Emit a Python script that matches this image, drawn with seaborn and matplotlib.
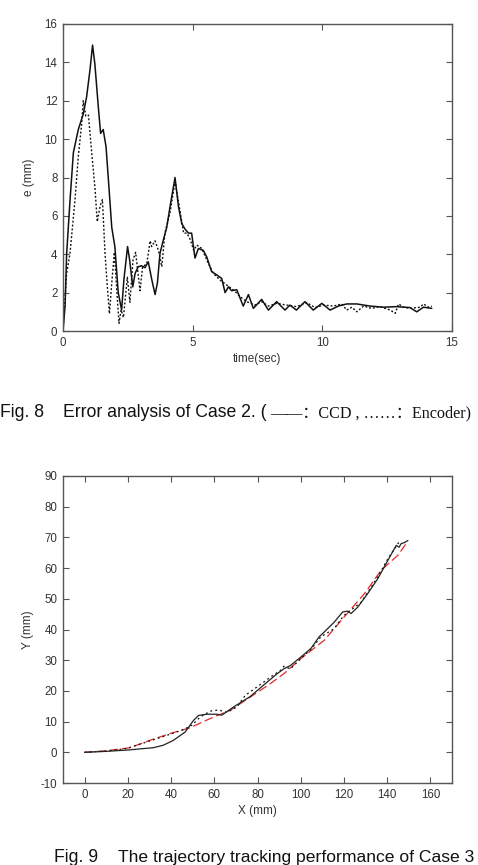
import matplotlib
matplotlib.use("Agg")
import matplotlib.pyplot as plt
import seaborn as sns
import pandas as pd

# ---------------- data: Fig. 8 (error vs time) ----------------
t_ccd = [0.00, 0.08, 0.14, 0.27, 0.40, 0.59, 0.78, 0.91, 1.04, 1.14, 1.23, 1.36, 1.45,
         1.55, 1.66, 1.75, 1.88, 2.00, 2.13, 2.26, 2.35, 2.49, 2.57, 2.69, 2.78, 2.90,
         3.03, 3.16, 3.29, 3.42, 3.55, 3.64, 3.74, 3.87, 4.00, 4.13, 4.32, 4.45, 4.58,
         4.71, 4.84, 4.96, 5.09, 5.22, 5.41, 5.54, 5.73, 5.93, 6.12, 6.25, 6.38, 6.50,
         6.70, 6.95, 7.15, 7.34, 7.66, 7.92, 8.24, 8.56, 8.75, 9.00, 9.33, 9.65, 9.98,
         10.30, 10.62, 10.94, 11.33, 11.84, 12.36, 12.87, 13.38, 13.64, 13.90, 14.22]
e_ccd = [0.0, 1.3, 4.0, 6.8, 9.3, 10.5, 11.3, 12.2, 13.6, 14.9, 13.9, 11.7, 10.3,
         10.5, 9.6, 7.9, 5.4, 4.4, 2.0, 1.1, 2.7, 4.4, 3.7, 2.3, 3.0, 3.35,
         3.4, 3.3, 3.6, 2.7, 1.9, 2.5, 4.05, 4.75, 5.4, 6.5, 8.0, 6.5, 5.6,
         5.3, 5.1, 5.1, 3.8, 4.3, 4.2, 3.87, 3.1, 2.92, 2.74, 2.0, 2.3, 2.1,
         2.15, 1.3, 1.9, 1.18, 1.65, 1.09, 1.53, 1.09, 1.35, 1.09, 1.53, 1.09, 1.44,
         1.09, 1.3, 1.41, 1.41, 1.3, 1.24, 1.27, 1.22, 1.0, 1.24, 1.18]

t_enc = [0.00, 0.14, 0.27, 0.46, 0.59, 0.72, 0.78, 0.88, 0.98, 1.11, 1.23, 1.32, 1.43,
         1.52, 1.62, 1.71, 1.79, 1.88, 1.98, 2.08, 2.16, 2.24, 2.33, 2.48, 2.58, 2.70,
         2.80, 2.97, 3.07, 3.23, 3.36, 3.42, 3.55, 3.68, 3.81, 3.93, 4.13, 4.32, 4.42,
         4.52, 4.65, 4.78, 4.91, 5.04, 5.16, 5.35, 5.60, 5.80, 6.05, 6.31, 6.57, 6.83,
         7.08, 7.40, 7.66, 7.92, 8.24, 8.63, 9.00, 9.40, 9.72, 10.04, 10.43, 10.75, 10.94,
         11.14, 11.33, 11.59, 11.90, 12.23, 12.62, 12.81, 12.94, 13.13, 13.38, 13.77, 13.90,
         14.10, 14.22]
e_enc = [0.0, 3.0, 4.05, 6.8, 9.1, 10.8, 12.0, 11.2, 11.25, 9.26, 7.5, 5.7, 6.5,
         6.85, 4.05, 2.3, 0.9, 2.5, 4.1, 2.0, 0.4, 1.1, 0.7, 2.8, 1.5, 3.7,
         4.1, 2.1, 3.35, 3.5, 4.7, 4.4, 4.7, 4.2, 3.35, 5.1, 6.2, 7.8, 7.0,
         6.2, 5.1, 5.1, 4.75, 4.2, 4.48, 4.3, 3.53, 3.0, 2.66, 2.4, 2.14, 1.79,
         1.53, 1.35, 1.53, 1.3, 1.44, 1.35, 1.27, 1.48, 1.22, 1.35, 1.3, 1.41, 1.09,
         1.24, 1.0, 1.3, 1.18, 1.27, 1.09, 0.92, 1.41, 1.24, 1.18, 1.24, 1.41,
         1.24, 1.3]

# ---------------- data: Fig. 9 (trajectory) ----------------
ref_x = [0, 10, 20.9, 30.2, 39.5, 48.8, 58.1, 67.4, 76.7, 86, 92.2, 100, 110.9, 120,
         129.5, 137.2, 145, 148.8]
ref_y = [0, 0.5, 1.5, 3.9, 6.1, 8.0, 11.0, 13.7, 18.0, 22.4, 25.6, 30.5, 36.5, 44.0,
         51.7, 59.3, 64.2, 68.0]

ccd_x = [0, 10, 20.9, 31.8, 36.4, 41.1, 46.5, 50.4, 52.7, 56.6, 61.2, 63.5, 69.0, 76.7,
         84.5, 89.1, 92.2, 95.3, 100.0, 104.7, 108.5, 110.9, 115.5, 119.4, 121.7, 123.3,
         126.4, 131.0, 135.7, 140.3, 144.2, 145.5, 146.5, 148.0, 149.6]
ccd_y = [0, 0.3, 0.8, 1.5, 2.3, 3.9, 6.6, 10.4, 12.0, 12.4, 12.4, 12.1, 14.8, 18.2,
         22.9, 25.6, 27.2, 28.3, 31.0, 33.8, 37.6, 39.2, 42.4, 45.7, 46.0, 45.2,
         47.3, 51.7, 56.6, 62.5, 67.4, 66.8, 68.0, 68.3, 69.0]

enc_x = [0, 10, 19.3, 28.7, 38.0, 45.7, 49.6, 53.5, 58.1, 62.0, 65.9, 70.5, 74.4, 79.8,
         86.0, 90.7, 92.2, 95.3, 100.0, 104.7, 109.3, 115.5, 120.0, 128.0, 135.7, 140.3,
         145.0, 146.5]
enc_y = [0, 0.4, 1.2, 3.35, 5.5, 7.4, 8.8, 11.5, 13.4, 13.8, 13.0, 14.8, 18.6, 21.3,
         24.5, 26.7, 28.0, 27.2, 30.5, 33.5, 37.6, 40.3, 44.6, 48.9, 57.2, 63.0,
         68.0, 69.0]

# ---------------- styling ----------------
sns.set_theme(style="ticks")
plt.rcParams["font.family"] = ["Liberation Sans", "DejaVu Sans"]
plt.rcParams["axes.unicode_minus"] = False
TXT = "#333333"
SPN = "#555555"

W, H = 478, 865
fig = plt.figure(figsize=(W / 100, H / 100), dpi=100)
fig.patch.set_facecolor("white")


def px_axes(left, top, right, bottom):
    return fig.add_axes([left / W, 1 - bottom / H, (right - left) / W, (bottom - top) / H])


def style_axes(ax):
    ax.set_facecolor("white")
    for s in ax.spines.values():
        s.set_color(SPN)
        s.set_linewidth(1.0)
        s.set_visible(True)
    ax.tick_params(direction="in", length=4, width=0.8, color=SPN, labelsize=8.3,
                   labelcolor=TXT, top=True, right=True, pad=4)
    ax.grid(False)


# Fig. 8
ax1 = px_axes(63, 24, 452, 331)
d1 = pd.DataFrame({"t": t_ccd, "e": e_ccd})
d2 = pd.DataFrame({"t": t_enc, "e": e_enc})
sns.lineplot(data=d2, x="t", y="e", ax=ax1, color="#111111", lw=1.0,
             linestyle=(0, (1.4, 1.4)), sort=False, estimator=None)
sns.lineplot(data=d1, x="t", y="e", ax=ax1, color="#111111", lw=1.1,
             sort=False, estimator=None)
ax1.set_xlim(0, 15)
ax1.set_ylim(0, 16)
ax1.set_xticks([0, 5, 10, 15])
ax1.set_yticks(range(0, 17, 2))
ax1.set_xlabel("time(sec)", fontsize=8.5, color=TXT, labelpad=3)
ax1.set_ylabel("e (mm)", fontsize=8.5, color=TXT, labelpad=7)
style_axes(ax1)

# Fig. 9
ax2 = px_axes(63, 476, 452, 783)
dr = pd.DataFrame({"x": ref_x, "y": ref_y})
dc = pd.DataFrame({"x": ccd_x, "y": ccd_y})
de = pd.DataFrame({"x": enc_x, "y": enc_y})
sns.lineplot(data=dr, x="x", y="y", ax=ax2, color="#e02a2a", lw=0.9,
             linestyle=(0, (7, 3)), sort=False, estimator=None)
sns.lineplot(data=de, x="x", y="y", ax=ax2, color="#111111", lw=0.9,
             linestyle=(0, (1.5, 2.5)), sort=False, estimator=None)
sns.lineplot(data=dc, x="x", y="y", ax=ax2, color="#222222", lw=0.9,
             sort=False, estimator=None)
ax2.set_xlim(-10, 170)
ax2.set_ylim(-10, 90)
ax2.set_xticks(range(0, 161, 20))
ax2.set_yticks(range(-10, 91, 10))
ax2.set_xlabel("X (mm)", fontsize=8.5, color=TXT, labelpad=3)
ax2.set_ylabel("Y (mm)", fontsize=8.5, color=TXT, labelpad=5)
style_axes(ax2)

# ---------------- captions ----------------
CAP = 12.7
SANS = ["Liberation Sans", "DejaVu Sans"]
SERIF = ["Liberation Serif", "Noto Sans CJK SC", "DejaVu Serif"]


def cap(x, y, s, fam, size=CAP):
    fig.text(x / W, 1 - y / H, s, fontsize=size, family=fam, color="#111111",
             ha="left", va="baseline")


cap(0, 417, "Fig. 8", SANS)
cap(63, 417, "Error analysis of Case 2. (", SANS)
cap(270, 417, "——：CCD , ……：Encoder)", SERIF, 11.6)

cap(54, 862, "Fig. 9", SANS)
cap(118, 862, "The trajectory tracking performance of Case 3", SANS, 12.6)

fig.savefig("out.png", dpi=100, facecolor="white")
